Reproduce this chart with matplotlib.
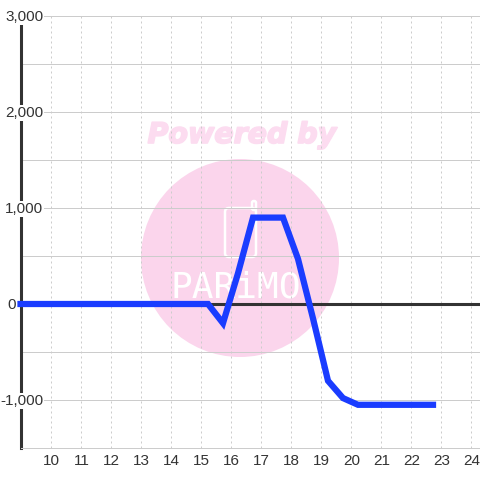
#!/usr/bin/env python3
# -*- coding: utf-8 -*-
import matplotlib
matplotlib.use('Agg')
import matplotlib.pyplot as plt
import matplotlib.patheffects as pe
from matplotlib.patches import Circle, FancyBboxPatch
from matplotlib.transforms import IdentityTransform, ScaledTranslation

plt.rcParams['font.family'] = ['Liberation Sans', 'DejaVu Sans']

hours = [9, 15.25, 15.75, 16.25, 16.75, 17.75, 18.25, 18.75, 19.25, 19.75, 20.25, 22.75]
values = [0, 0, -200, 320, 900, 900, 470, -150, -800, -980, -1050, -1050]
x_ticks = list(range(10, 25))
y_major = [-1000, 0, 1000, 2000, 3000]
y_minor = [-1500, -500, 500, 1500, 2500]
y_labels = ['-1,000', '0', '1,000', '2,000', '3,000']

grey = '#cccccc'
dark = '#333333'
pink = '#fbd5ec'

fig = plt.figure(figsize=(4.8, 4.8), dpi=100, facecolor='white')
ax = fig.add_axes([20.5 / 480, 32 / 480, 459.5 / 480, 432 / 480])
ax.patch.set_visible(False)
ax.set_xlim(9, 9 + 459.5 / 30)
ax.set_ylim(-1500, 3000)

# watermark, sits behind the axes (pixel coordinates, y from the bottom)
px = IdentityTransform()
fig.add_artist(Circle((240, 222), 99, transform=px, fc=pink, ec='none', zorder=-5))
fig.add_artist(FancyBboxPatch((225, 223), 31, 49, boxstyle='round,pad=0,rounding_size=4',
                              transform=px, fc='none', ec='white', lw=1.8, zorder=-4))
fig.add_artist(FancyBboxPatch((252, 270), 4, 9, boxstyle='round,pad=0,rounding_size=1.8',
                              transform=px, fc='none', ec='white', lw=1.8, zorder=-4))
fig.text(236, 192, 'PARiMO', transform=px, ha='center', va='center', color='white',
         family='DejaVu Sans Mono', fontsize=26, zorder=-4)
fig.text(242, 345, 'Powered by', transform=px, ha='center', va='center', color='#fcdcf0',
         family='DejaVu Sans', weight='bold', style='italic', fontsize=20.5, zorder=-4,
         path_effects=[pe.withStroke(linewidth=1.2, foreground='#fcdcf0')])

# grid
ax.set_xticks(x_ticks)
ax.set_yticks(y_major + y_minor)
ax.set_yticklabels([])
ax.tick_params(length=0, labelsize=11, labelcolor=dark)
ax.tick_params(axis='x', pad=4.5)
shift = ScaledTranslation(1 / 100, 0, fig.dpi_scale_trans)
for lab in ax.get_xticklabels():
    lab.set_transform(lab.get_transform() + shift)
ax.grid(axis='y', color=grey, lw=0.72)
ax.grid(axis='x', color=grey, lw=0.72, ls=(0, (2, 3)))
ax.set_axisbelow(True)

for side in ['top', 'right']:
    ax.spines[side].set_visible(False)
ax.spines['bottom'].set_color(grey)
ax.spines['bottom'].set_linewidth(0.72)
ax.spines['left'].set_color(dark)
ax.spines['left'].set_linewidth(2.2)

ax.axhline(0, color=dark, lw=2.2, zorder=2)
ax.plot(hours, values, color='#1a3cff', lw=4.5, solid_capstyle='projecting',
        solid_joinstyle='miter', clip_on=False, zorder=3)

# y labels carry a white box that interrupts the axis line
for val, lab in zip(y_major, y_labels):
    if val == 0:
        ax.annotate(lab, (9, val), xytext=(-3.4, -0.7), textcoords='offset points', ha='right',
                    va='center', fontsize=11, color=dark, annotation_clip=False, zorder=6)
    else:
        ax.annotate(lab, (9, val), xytext=(16.5, -0.7), textcoords='offset points', ha='right',
                    va='center', fontsize=11, color=dark, annotation_clip=False, zorder=6,
                    bbox=dict(fc='white', ec='none', pad=0.8))

fig.savefig('out.png', dpi=100)
